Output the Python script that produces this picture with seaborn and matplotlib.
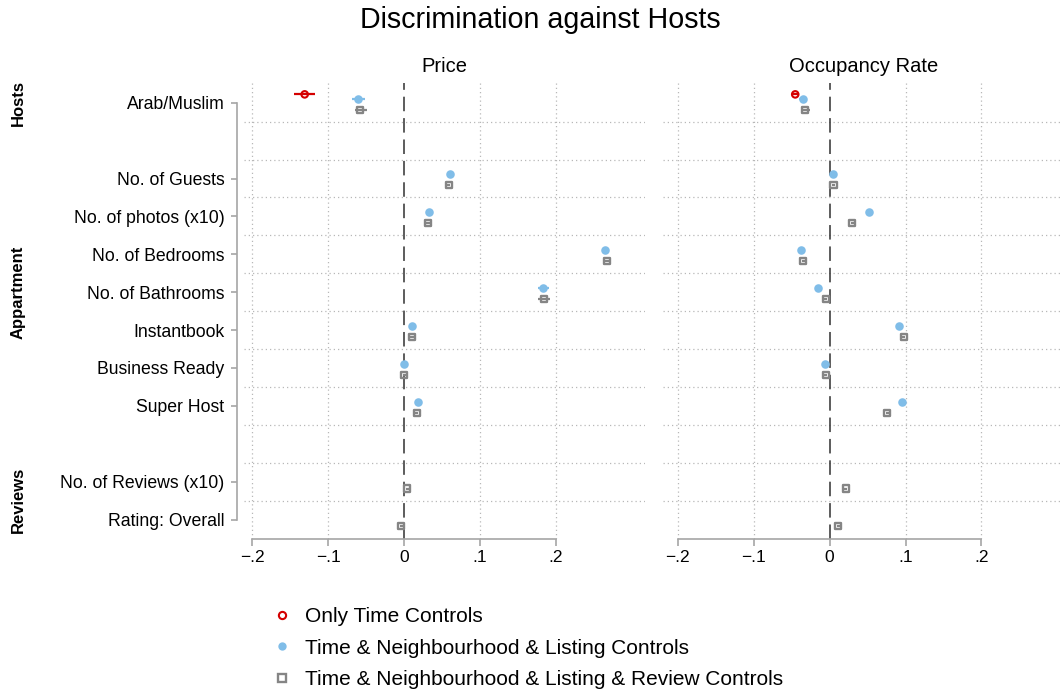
import numpy as np
import pandas as pd
import matplotlib
matplotlib.use("Agg")
import matplotlib.pyplot as plt
import seaborn as sns
from matplotlib.lines import Line2D

# ---------------- data ----------------
categories = ["Arab/Muslim", "No. of Guests", "No. of photos (x10)", "No. of Bedrooms",
              "No. of Bathrooms", "Instantbook", "Business Ready", "Super Host",
              "No. of Reviews (x10)", "Rating: Overall"]
cat_groups = ["Hosts", "Appartment", "Appartment", "Appartment", "Appartment",
              "Appartment", "Appartment", "Appartment", "Reviews", "Reviews"]
group_names = ["Hosts", "Appartment", "Reviews"]
series_names = ["Only Time Controls",
                "Time & Neighbourhood & Listing Controls",
                "Time & Neighbourhood & Listing & Review Controls"]
panels = ["Price", "Occupancy Rate"]
nan = np.nan

# Price panel: estimates and CI bounds
price_time     = [-0.131, nan, nan, nan, nan, nan, nan, nan, nan, nan]
price_time_lo  = [-0.145, nan, nan, nan, nan, nan, nan, nan, nan, nan]
price_time_hi  = [-0.117, nan, nan, nan, nan, nan, nan, nan, nan, nan]
price_ngh      = [-0.0605, 0.060, 0.0325, 0.2645, 0.183, 0.011, -0.0005, 0.019, nan, nan]
price_ngh_lo   = [-0.068, 0.058, 0.030, 0.262, 0.176, 0.009, -0.0025, 0.017, nan, nan]
price_ngh_hi   = [-0.052, 0.062, 0.035, 0.267, 0.191, 0.013, 0.0015, 0.021, nan, nan]
price_rev      = [-0.058, 0.059, 0.0316, 0.267, 0.184, 0.0105, 0.000, 0.017, 0.004, -0.0035]
price_rev_lo   = [-0.065, 0.057, 0.029, 0.264, 0.177, 0.0085, -0.002, 0.015, 0.002, -0.0055]
price_rev_hi   = [-0.049, 0.061, 0.034, 0.270, 0.192, 0.0125, 0.002, 0.019, 0.006, -0.0015]

# Occupancy panel
occ_time       = [-0.0454, nan, nan, nan, nan, nan, nan, nan, nan, nan]
occ_time_lo    = [-0.050, nan, nan, nan, nan, nan, nan, nan, nan, nan]
occ_time_hi    = [-0.041, nan, nan, nan, nan, nan, nan, nan, nan, nan]
occ_ngh        = [-0.0358, 0.0046, 0.0524, -0.0375, -0.0152, 0.0916, -0.0068, 0.095, nan, nan]
occ_ngh_lo     = [-0.040, 0.0026, 0.0504, -0.0395, -0.0172, 0.0896, -0.0088, 0.093, nan, nan]
occ_ngh_hi     = [-0.032, 0.0066, 0.0544, -0.0355, -0.0132, 0.0936, -0.0048, 0.097, nan, nan]
occ_rev        = [-0.0319, 0.005, 0.030, -0.035, -0.005, 0.0977, -0.005, 0.076, 0.021, 0.011]
occ_rev_lo     = [-0.0375, 0.003, 0.028, -0.037, -0.007, 0.0957, -0.007, 0.074, 0.019, 0.009]
occ_rev_hi     = [-0.0265, 0.007, 0.032, -0.033, -0.003, 0.0997, -0.003, 0.078, 0.023, 0.013]

xticks = [-0.2, -0.1, 0.0, 0.1, 0.2]
xticklabels = ["\u2212.2", "\u2212.1", "0", ".1", ".2"]

# ---------------- build long table ----------------
rows = []
panel_data = {
    "Price": [(price_time, price_time_lo, price_time_hi),
              (price_ngh, price_ngh_lo, price_ngh_hi),
              (price_rev, price_rev_lo, price_rev_hi)],
    "Occupancy Rate": [(occ_time, occ_time_lo, occ_time_hi),
                       (occ_ngh, occ_ngh_lo, occ_ngh_hi),
                       (occ_rev, occ_rev_lo, occ_rev_hi)],
}
for p in panels:
    for s, (est, lo, hi) in zip(series_names, panel_data[p]):
        for c, e, l, h in zip(categories, est, lo, hi):
            if not np.isnan(e):
                rows.append(dict(panel=p, series=s, category=c, est=e, lo=l, hi=h))
df = pd.DataFrame(rows)

# category positions (one blank slot between groups)
pos = {}
k = 0
prev = None
for c, g in zip(categories, cat_groups):
    if prev is not None and g != prev:
        k += 1
    pos[c] = k
    k += 1
    prev = g
offsets = {series_names[0]: -0.22, series_names[1]: -0.11, series_names[2]: 0.18}
df["y"] = df["category"].map(pos) + df["series"].map(offsets)

# ---------------- style ----------------
sns.set_theme(style="white")
plt.rcParams["font.family"] = ["Liberation Sans", "DejaVu Sans"]
plt.rcParams["text.color"] = "black"
plt.rcParams["xtick.labelcolor"] = "black"
plt.rcParams["ytick.labelcolor"] = "black"
plt.rcParams["axes.titlecolor"] = "black"

colors = {series_names[0]: "#d40000", series_names[1]: "#80bde8", series_names[2]: "#858585"}
styles = {
    series_names[0]: dict(marker="o", s=22, facecolor="none", linewidth=1.5),
    series_names[1]: dict(marker="o", s=38, linewidth=0),
    series_names[2]: dict(marker="s", s=19, facecolor="none", linewidth=1.7),
}
axis_col = "#a6a6a6"
grid_col = "#b8b8b8"

W, H = 1061, 693
fig = plt.figure(figsize=(W / 100, H / 100), dpi=100)
fig.patch.set_facecolor("white")

ax_rects = [(244 / W, 1 - 539.3 / H, 401 / W, 456.3 / H),
            (663 / W, 1 - 539.3 / H, 401 / W, 456.3 / H)]
xlims = [(-0.211, 0.3177), (-0.2196, 0.3087)]

ypos = [pos[c] for c in categories]
ymax = max(ypos)
dot = (0, (1, 2.4))

for i, p in enumerate(panels):
    ax = fig.add_axes(ax_rects[i])
    ax.set_facecolor("white")
    sub = df[df.panel == p]
    for s in series_names:
        d = sub[sub.series == s]
        if d.empty:
            continue
        ax.hlines(d["y"], d["lo"], d["hi"], color=colors[s], lw=1.6, zorder=3)
        kw = dict(styles[s])
        kw["edgecolor"] = colors[s]
        sns.scatterplot(data=d, x="est", y="y", color=colors[s], ax=ax,
                        legend=False, zorder=4, **kw)
    # grid
    for g in np.arange(0.5, ymax, 1.0):
        ax.axhline(g, color=grid_col, lw=0.9, ls=dot, zorder=1)
    for xt in xticks:
        if xt != 0:
            ax.axvline(xt, color=grid_col, lw=0.9, ls=dot, zorder=1)
    ax.axvline(0, color="#303030", lw=1.1, ls=(0, (9.5, 4.5)), zorder=2)

    ax.set_xlim(*xlims[i])
    ax.set_ylim(ymax + 0.52, -0.52)
    ax.set_xticks(xticks)
    ax.set_xticklabels(xticklabels, fontsize=12.5)
    ax.set_xlabel("")
    ax.set_ylabel("")
    for sp in ["top", "right"]:
        ax.spines[sp].set_visible(False)
    ax.spines["bottom"].set_bounds(-0.2, 0.2)
    ax.spines["bottom"].set_color(axis_col)
    ax.spines["bottom"].set_linewidth(1.2)
    ax.tick_params(axis="x", length=5, width=1.2, color=axis_col, pad=3, direction="out",
                   bottom=True, labelcolor="black")
    if i == 0:
        ax.spines["left"].set_position(("outward", 5))
        ax.spines["left"].set_bounds(0, ymax)
        ax.spines["left"].set_color(axis_col)
        ax.spines["left"].set_linewidth(1.2)
        ax.set_yticks(ypos)
        ax.set_yticklabels(categories, fontsize=12.7)
        ax.tick_params(axis="y", length=4.5, width=1.2, color=axis_col, pad=4.5,
                       direction="out", left=True, labelcolor="black")
    else:
        ax.spines["left"].set_visible(False)
        ax.set_yticks([])
    ax.set_title(p, fontsize=14.5, pad=8, color="black")

# group labels
group_y = {"Hosts": 103, "Appartment": 292, "Reviews": 500}
for g in group_names:
    fig.text(18 / W, 1 - group_y[g] / H, g, rotation=90, ha="center", va="center",
             fontsize=12, fontweight="bold", color="black")

fig.text(540 / W, 1 - 20 / H, "Discrimination against Hosts", ha="center", va="center",
         fontsize=20.6, color="black")

# legend
handles = []
for s in series_names:
    st = styles[s]
    face = "white" if "facecolor" in st else colors[s]
    ms = 6 if s == series_names[1] else 5.2
    handles.append(Line2D([], [], ls="none", marker=st["marker"], markersize=ms,
                          markerfacecolor=face, markeredgecolor=colors[s],
                          markeredgewidth=st["linewidth"] if st["linewidth"] else 0))
fig.legend(handles, series_names, loc="upper left",
           bbox_to_anchor=(274 / W, 1 - 607 / H), frameon=False, fontsize=15,
           handlelength=0.8, handletextpad=0.68, labelspacing=0.6,
           borderpad=0, borderaxespad=0, labelcolor="black")

fig.savefig("out.png", dpi=100, facecolor="white")
